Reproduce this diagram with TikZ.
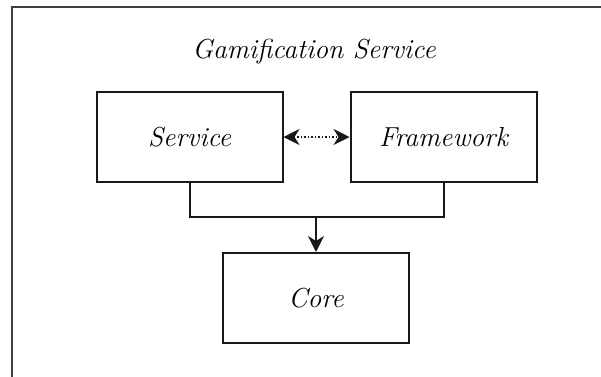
\documentclass[tikz,border=0pt]{standalone}
\usetikzlibrary{arrows.meta}
\begin{document}
\begin{tikzpicture}[x=1pt,y=-1pt,
  >={Stealth[length=16pt,width=16pt,inset=5pt]},
  comp/.style={draw=black!90, line width=2pt, minimum width=186pt, minimum height=90pt,
    inner sep=0pt, font=\fontsize{27.5}{32}\selectfont\itshape},
  link/.style={line width=2pt, draw=black!90}]
  \useasboundingbox (0,0) rectangle (601,376);
  \begin{scope}
    \clip (0,0) rectangle (601,376);
    \draw[black!75, line width=2pt] (12,7) rectangle (640,420);
  \end{scope}
  \node[font=\fontsize{27.5}{32}\selectfont\itshape] (title) at (314,52) {Gamification Service};
  \node[comp] (service) at (189.5,137) {Service};
  \node[comp] (framework) at (443.5,137) {Framework};
  \node[comp] (core) at (316,298) {Core};
  \coordinate (join) at (316,217);
  \draw[link, line width=1.5pt, dotted, <->] (service.east) -- (framework.west);
  \draw[link] (service.south) |- (join) -| (framework.south);
  \draw[link, ->] (join) -- (core.north);
\end{tikzpicture}
\end{document}
